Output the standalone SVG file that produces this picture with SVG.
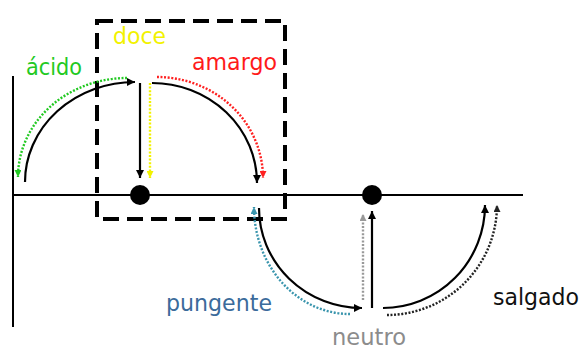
<svg xmlns="http://www.w3.org/2000/svg" width="582" height="350" viewBox="0 0 582 350">
<style>
.ax{stroke:#000;stroke-width:2;fill:none}
.c{fill:none;stroke-width:2.2}
.solid{stroke:#000}
.dot{stroke-dasharray:2 1.6;stroke-width:2.4}
text{font-family:"DejaVu Sans","Liberation Sans",sans-serif;font-size:22.5px}
</style>
<defs>
<marker id="ak" markerUnits="userSpaceOnUse" markerWidth="9" markerHeight="8" refX="8" refY="4" orient="auto"><path d="M0,0 L8,4 L0,8 z" fill="#000"/></marker>
<marker id="ag" markerUnits="userSpaceOnUse" markerWidth="8" markerHeight="7" refX="7" refY="3.5" orient="auto"><path d="M0,0 L7,3.5 L0,7 z" fill="#22c922"/></marker>
<marker id="ay" markerUnits="userSpaceOnUse" markerWidth="8" markerHeight="7" refX="7" refY="3.5" orient="auto"><path d="M0,0 L7,3.5 L0,7 z" fill="#f2f200"/></marker>
<marker id="ar" markerUnits="userSpaceOnUse" markerWidth="8" markerHeight="7" refX="7" refY="3.5" orient="auto"><path d="M0,0 L7,3.5 L0,7 z" fill="#ff2020"/></marker>
<marker id="at" markerUnits="userSpaceOnUse" markerWidth="8" markerHeight="7" refX="7" refY="3.5" orient="auto"><path d="M0,0 L7,3.5 L0,7 z" fill="#3a95ad"/></marker>
<marker id="ae" markerUnits="userSpaceOnUse" markerWidth="8" markerHeight="7" refX="7" refY="3.5" orient="auto"><path d="M0,0 L7,3.5 L0,7 z" fill="#999"/></marker>
<marker id="ad" markerUnits="userSpaceOnUse" markerWidth="8" markerHeight="7" refX="7" refY="3.5" orient="auto"><path d="M0,0 L7,3.5 L0,7 z" fill="#222"/></marker>
</defs>
<g id="axes">
<line class="ax" x1="13" y1="76" x2="13" y2="327"/>
<line class="ax" x1="13" y1="195" x2="523" y2="195"/>
</g>
<g id="box">
<rect x="97" y="21" width="188" height="198" fill="none" stroke="#000" stroke-width="4" stroke-dasharray="16 8"/>
</g>
<g id="node-doce-point"><circle cx="140" cy="195" r="10" fill="#000"/></g>
<g id="node-neutro-point"><circle cx="372" cy="195" r="10" fill="#000"/></g>
<g id="connectors">
<path class="c solid" d="M25,182 A110,100 0 0 1 135,82" marker-end="url(#ak)"/>
<path class="c dot" stroke="#22c922" d="M127,78 A109,99 0 0 0 18,177" marker-end="url(#ag)"/>
<path class="c solid" d="M140,83 L140,178" marker-end="url(#ak)"/>
<path class="c dot" stroke="#f2f200" d="M150,83 L150,178" marker-end="url(#ay)"/>
<path class="c solid" d="M152,83 A105,100 0 0 1 257,183" marker-end="url(#ak)"/>
<path class="c dot" stroke="#ff2020" d="M157,77 A106,101 0 0 1 263,178" marker-end="url(#ar)"/>
<path class="c solid" d="M259,208 A103,100 0 0 0 362,308" marker-end="url(#ak)"/>
<path class="c dot" stroke="#3a95ad" d="M350,314 A96,107 0 0 1 254,207" marker-end="url(#at)"/>
<path class="c dot" stroke="#999" d="M363,300 L363,214" marker-end="url(#ae)"/>
<path class="c solid" d="M372,308 L372,211" marker-end="url(#ak)"/>
<path class="c solid" d="M383,308 A102,103 0 0 0 485,205" marker-end="url(#ak)"/>
<path class="c dot" stroke="#222" d="M387,315 A110,110 0 0 0 497,205" marker-end="url(#ad)"/>
</g>
<g id="labels">
<text x="26" y="75" fill="#22c922" textLength="56" lengthAdjust="spacingAndGlyphs">ácido</text>
<text x="113" y="44" fill="#f2f200" textLength="53" lengthAdjust="spacingAndGlyphs">doce</text>
<text x="192" y="70" fill="#ff1a1a" textLength="85" lengthAdjust="spacingAndGlyphs">amargo</text>
<text x="166" y="311" fill="#3b6b9b" textLength="106" lengthAdjust="spacingAndGlyphs">pungente</text>
<text x="332" y="345" fill="#8c8c8c" textLength="74" lengthAdjust="spacingAndGlyphs">neutro</text>
<text x="493" y="305" fill="#111" textLength="86" lengthAdjust="spacingAndGlyphs">salgado</text>
</g>
</svg>
